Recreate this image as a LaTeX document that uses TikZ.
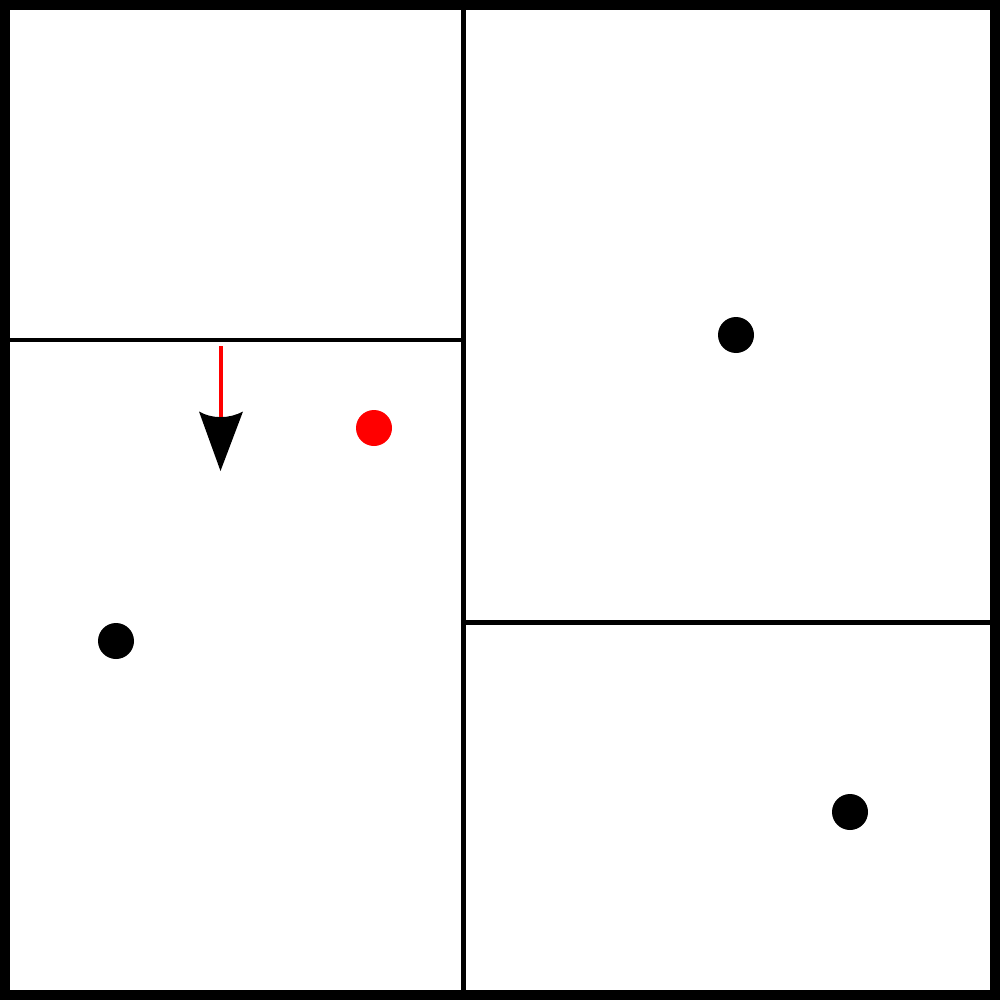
\documentclass[tikz,border=0pt]{standalone}
\begin{document}
\begin{tikzpicture}[x=1pt,y=-1pt,
  dot/.style={circle,fill=black,inner sep=0pt,minimum size=36pt},
  reddot/.style={circle,fill=red,inner sep=0pt,minimum size=36pt},
  wall/.style={line width=4.5pt,draw=black}]
\useasboundingbox (0,0) rectangle (1000,1000);
\fill[white] (0,0) rectangle (1000,1000);
% partitions
\draw[wall] (463.5,0) -- (463.5,1000);
\draw[wall] (0,340) -- (463.5,340);
\draw[wall] (463.5,622.5) -- (1000,622.5);
% outer frame
\draw[line width=10pt] (5,5) rectangle (995,995);
% dots
\node[dot] (d1) at (736,335) {};
\node[dot] (d2) at (116,641) {};
\node[dot] (d3) at (850,812) {};
\node[reddot] (r1) at (374,428) {};
% arrow
\coordinate (as) at (220.5,346);
\coordinate (ae) at (220.5,418);
\draw[red,line width=4pt] (as) -- (ae);
\fill[black] (220.5,471) -- (199,411.5) .. controls (212,419) and (229,419) .. (243,411.5) -- cycle;
\end{tikzpicture}
\end{document}
